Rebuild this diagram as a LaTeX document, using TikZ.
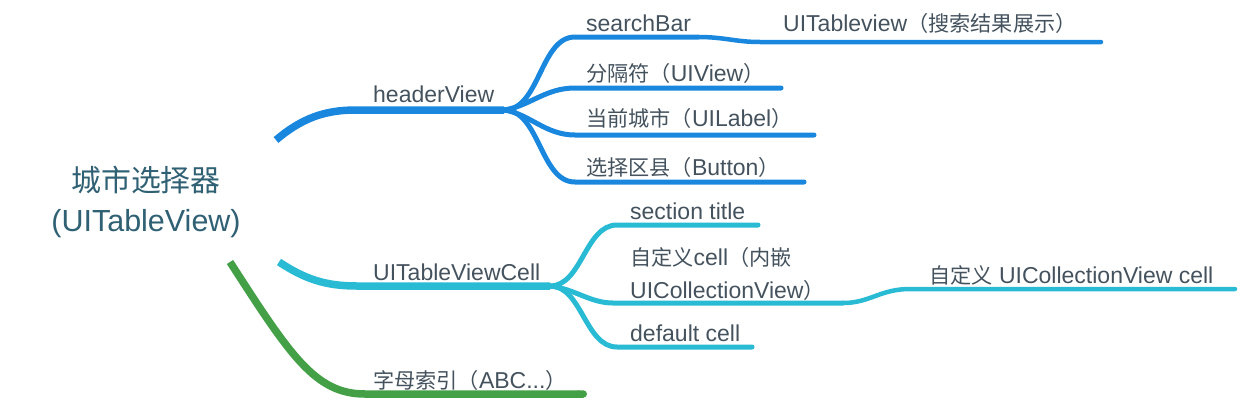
\documentclass[tikz,border=0pt]{standalone}
\usepackage{fontspec}
\setmainfont{Liberation Sans}
\newfontfamily\cjk[Scale=0.92]{Noto Sans CJK SC}
\newcommand{\zh}[1]{{\cjk #1}}
\usetikzlibrary{arrows.meta}
\definecolor{bleu}{HTML}{1A87DE}
\definecolor{cyanb}{HTML}{29BBD4}
\definecolor{vert}{HTML}{44A047}
\definecolor{texte}{HTML}{44525E}
\definecolor{racine}{HTML}{2F6073}

\begin{document}
\begin{tikzpicture}[x=1pt,y=-1pt,
	lbl/.style={anchor=base west,inner sep=0pt,text=texte,font=\fontsize{23}{33}\selectfont},
	tronc/.style={line width=7.5pt,line cap=butt},
	branche/.style={line width=5pt,line cap=round}]
			          %\draw[help lines] (0,0) grid[step=50] (1240,402);
			          \useasboundingbox (0,0) rectangle (1240,402);
			          \node[align=center,inner sep=0pt,text=racine,font=\fontsize{30.5}{40}\selectfont] (R) at (146,202) {{\fontsize{32.5}{40}\selectfont\zh{城市选择器}}\\(UITableView)};
			          
			          %points des branches
			          \coordinate (H0) at (276,140);
			          \coordinate (H) at (504,110);
			          \coordinate (C0) at (279,262);
			          \coordinate (C) at (550,286);
			          \coordinate (A0) at (230,262);
			          \coordinate (A) at (587,394);
			          \coordinate (h1) at (698,37);
			          \coordinate (h1b) at (1101,42);
			          \coordinate (h2) at (781,88);
			          \coordinate (h3) at (814,135);
			          \coordinate (h4) at (804,182);
			          \coordinate (c1) at (758,225);
			          \coordinate (c2) at (843,303);
			          \coordinate (c2b) at (1235,289);
			          \coordinate (c3) at (752,347);
			          
			          %headerView
			          \draw[tronc,bleu] (H0) .. controls (302,118) and (325,110) .. (356,110) -- (H);
			          \draw[branche,bleu] (H) .. controls (540,110) and (540,37) .. (575,37) -- (h1);
			          \draw[branche,bleu,line width=4.5pt] (h1) .. controls (725,37) and (735,42) .. (760,42) -- (h1b);
			          \draw[branche,bleu] (H) .. controls (530,106) and (545,88) .. (575,88) -- (h2);
			          \draw[branche,bleu] (H) .. controls (530,114) and (545,135) .. (575,135) -- (h3);
			          \draw[branche,bleu] (H) .. controls (540,110) and (540,182) .. (575,182) -- (h4);
			          
			          %UITableViewCell
			          \draw[tronc,cyanb] (C0) .. controls (305,279) and (325,286) .. (357,286) -- (C);
			          \draw[branche,cyanb] (C) .. controls (582,286) and (585,225) .. (617,225) -- (c1);
			          \draw[branche,cyanb] (C) .. controls (575,289) and (590,303) .. (613,303) -- (c2);
			          \draw[branche,cyanb,line width=4.5pt] (c2) .. controls (870,303) and (880,289) .. (910,289) -- (c2b);
			          \draw[branche,cyanb] (C) .. controls (582,286) and (585,347) .. (617,347) -- (c3);
			          
			          %index
			          \draw[tronc,vert,-{Round Cap[]}] (A0) .. controls (290,355) and (315,394) .. (365,394) -- (A);
			          
			          \node[lbl] (hv) at (373,102) {headerView};
			          \node[lbl] (sb) at (586,31) {searchBar};
			          \node[lbl] (tv) at (783,31) {UITableview\zh{（搜索结果展示）}};
			          \node[lbl] (fg) at (586,81) {\zh{分隔符（}UIView\zh{）}};
			          \node[lbl] (dq) at (586,126) {\zh{当前城市（}UILabel\zh{）}};
			          \node[lbl] (xz) at (586,175) {\zh{选择区县（}Button\zh{）}};
			          \node[lbl] (tc) at (373,280) {UITableViewCell};
			          \node[lbl] (st) at (630,219) {section title};
			          \node[lbl,anchor=west,align=left] (cc) at (630,273.5) {\zh{自定义}cell\zh{（内嵌}\\UICollectionView\zh{）}};
			          \node[lbl] (uc) at (929,283) {\zh{自定义} UICollectionView cell};
			          \node[lbl] (dc) at (630,341) {default cell};
			          \node[lbl] (zm) at (373,388) {\zh{字母索引（}ABC...\zh{）}};
				  \end{tikzpicture}
\end{document}
